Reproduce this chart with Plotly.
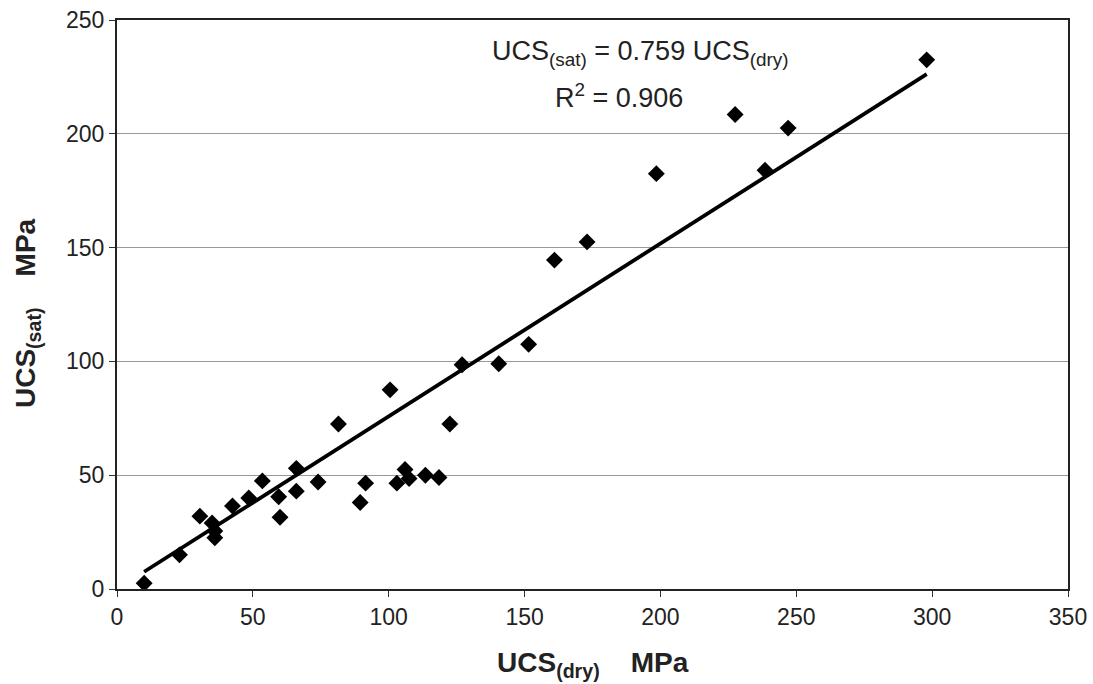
import plotly.graph_objects as go

ucs_dry = [10, 23, 30.5, 35, 36, 36, 42.5, 48.5, 53.5, 59.5, 60, 66, 66, 74, 81.5,
           89.5, 91.5, 100.5, 103, 106, 107.5, 113.5, 118.5, 122.5, 127, 140.5,
           151.5, 161, 173, 198.5, 227.5, 238.5, 247, 298]
ucs_sat = [2.5, 15, 32, 29, 25.5, 22.5, 36.5, 40, 47.5, 40.5, 31.5, 53, 43, 47, 72.5,
           38, 46.5, 87.5, 46.5, 52.5, 48.5, 50, 49, 72.5, 98.5, 99, 107.5, 144.5,
           152.5, 182.5, 208.5, 184, 202.5, 232.5]

slope = 0.759
trend_x = [min(ucs_dry), max(ucs_dry)]
trend_y = [slope * v for v in trend_x]

x_ticks = [0, 50, 100, 150, 200, 250, 300, 350]
y_ticks = [0, 50, 100, 150, 200, 250]

font = "Liberation Sans, Arial, sans-serif"
txt = "#222"

fig = go.Figure()
fig.add_trace(go.Scatter(x=trend_x, y=trend_y, mode="lines",
                         line=dict(color="black", width=3.8), showlegend=False,
                         hoverinfo="skip"))
fig.add_trace(go.Scatter(x=ucs_dry, y=ucs_sat, mode="markers",
                         marker=dict(symbol="diamond", size=13, color="black"),
                         showlegend=False))

fig.add_annotation(x=0.55, y=235.5, xref="paper", yref="y",
                   text="UCS<sub>(sat)</sub> = 0.759 UCS<sub>(dry)</sub>",
                   showarrow=False, font=dict(family=font, size=27, color=txt))
fig.add_annotation(x=0.528, y=216.5, xref="paper", yref="y",
                   text="R<sup>2</sup> = 0.906",
                   showarrow=False, font=dict(family=font, size=27, color=txt))

# axis titles
fig.add_annotation(x=0.5, y=0, xref="paper", yref="paper", yshift=-75,
                   xanchor="center", yanchor="middle",
                   text="<b>UCS<sub>(dry)</sub>    MPa</b>", showarrow=False,
                   font=dict(family=font, size=28, color=txt))
fig.add_annotation(x=0, y=0.485, xref="paper", yref="paper", xshift=-90,
                   xanchor="center", yanchor="middle", textangle=-90,
                   text="<b>UCS<sub>(sat)</sub>    MPa</b>", showarrow=False,
                   font=dict(family=font, size=28, color=txt))

fig.update_layout(
    width=1093, height=684,
    margin=dict(l=117, r=25, t=20, b=95, autoexpand=False),
    paper_bgcolor="white", plot_bgcolor="white",
    font=dict(family=font, size=23, color=txt),
    xaxis=dict(range=[0, 350], tickvals=x_ticks, ticks="outside", ticklen=6,
               tickcolor="#333", showgrid=False, zeroline=False, automargin=False,
               showline=True, linecolor="#222", linewidth=2, mirror=True,
               tickfont=dict(size=23)),
    yaxis=dict(range=[0, 250], tickvals=y_ticks, ticks="outside", ticklen=6,
               tickcolor="#333", showgrid=True, gridcolor="#999", gridwidth=1.4,
               zeroline=False, automargin=False, showline=True, linecolor="#222",
               linewidth=2, mirror=True, tickfont=dict(size=23)),
)

fig.write_html("out.html")
